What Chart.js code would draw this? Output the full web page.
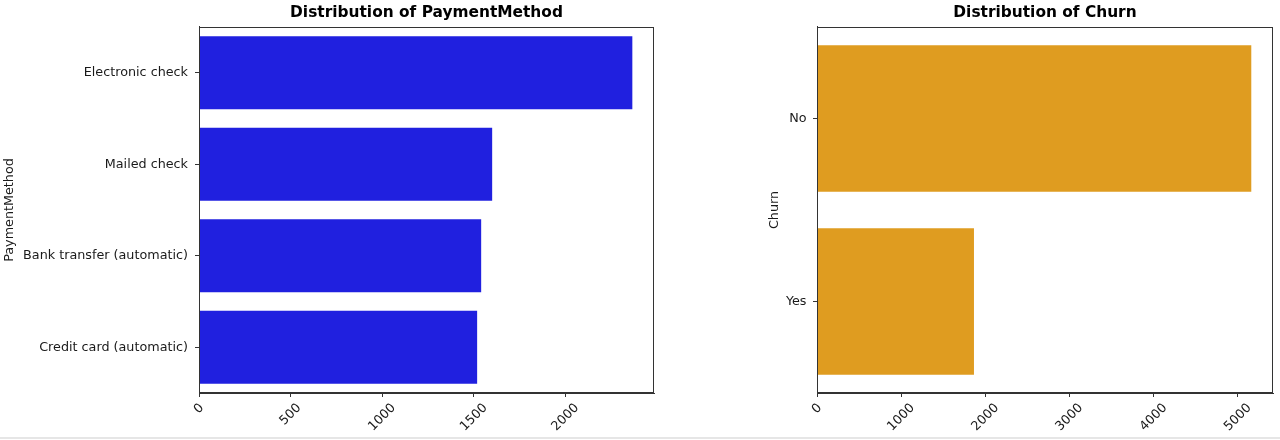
<!DOCTYPE html>
<html>
<head>
<meta charset="utf-8">
<script src="https://cdn.jsdelivr.net/npm/chart.js@4.4.1/dist/chart.umd.min.js"></script>
<style>
  body { margin: 0; background: #fff; width: 1280px; height: 440px; position: relative; overflow: hidden; }
  #left { position: absolute; left: 0; top: 0; width: 660px; height: 440px; }
  #right { position: absolute; left: 760px; top: 0; width: 520px; height: 440px; }
  #rule { position: absolute; left: 0; top: 437px; width: 1280px; height: 2px; background: #e6e6e6; }
</style>
</head>
<body>
<div id="left"><canvas id="payChart"></canvas></div>
<div id="right"><canvas id="churnChart"></canvas></div>
<div id="rule"></div>
<script>
const paymentLabels = ['Electronic check', 'Mailed check', 'Bank transfer (automatic)', 'Credit card (automatic)'];
const paymentCounts = [2365, 1600, 1540, 1518];
const paymentTicks = [0, 500, 1000, 1500, 2000];

const churnLabels = ['No', 'Yes'];
const churnCounts = [5160, 1865];
const churnTicks = [0, 1000, 2000, 3000, 4000, 5000];

const FONT_SIZE = 12.75;

Chart.defaults.font.family = '"DejaVu Sans", sans-serif';
Chart.defaults.color = '#1a1a1a';

// matplotlib-style frame + rotated, centred x tick labels
const frameAndTicks = {
  id: 'frameAndTicks',
  afterDraw(chart) {
    const { ctx, chartArea: a } = chart;
    const x = chart.scales.x;
    ctx.save();
    ctx.strokeStyle = '#333';
    ctx.lineWidth = 1;
    const l = Math.round(a.left) + 0.5, r = Math.round(a.right) - 0.5;
    const t = Math.round(a.top) + 0.5, b = Math.round(a.bottom) - 0.5;
    ctx.strokeRect(l, t, r - l, b - t);

    ctx.font = FONT_SIZE + 'px "DejaVu Sans"';
    ctx.fillStyle = '#1a1a1a';
    ctx.textAlign = 'center';
    ctx.textBaseline = 'middle';
    x.ticks.forEach(tk => {
      const px = x.getPixelForValue(tk.value);
      const txt = String(tk.value);
      const w = ctx.measureText(txt).width;
      const bh = (w + FONT_SIZE) * Math.SQRT1_2;
      ctx.save();
      ctx.translate(px, a.bottom + 8.5 + bh / 2);
      ctx.rotate(-Math.PI / 4);
      ctx.fillText(txt, 0, 0);
      ctx.restore();
    });
    ctx.restore();
  }
};

function makeChart(id, labels, counts, ticks, color, title, yTitle, yWidth, padRight, yPad, yTitlePad) {
  const ctx = document.getElementById(id).getContext('2d');
  return new Chart(ctx, {
    type: 'bar',
    data: {
      labels: labels,
      datasets: [{
        data: counts,
        backgroundColor: color,
        borderWidth: 0,
        barPercentage: 0.8,
        categoryPercentage: 1.0
      }]
    },
    options: {
      indexAxis: 'y',
      responsive: true,
      maintainAspectRatio: false,
      animation: false,
      layout: { padding: { left: 0, right: padRight, top: 0, bottom: 0 } },
      plugins: {
        legend: { display: false },
        tooltip: { enabled: false },
        title: {
          display: true,
          text: title,
          fullSize: false,
          color: '#000',
          font: { size: 15.4, weight: 'bold' },
          padding: { top: 4, bottom: 4.5 }
        }
      },
      scales: {
        x: {
          type: 'linear',
          min: 0,
          max: Math.max(...counts) * 1.05,
          afterBuildTicks: s => { s.ticks = ticks.map(v => ({ value: v })); },
          afterFit: s => { s.height = 47; },
          ticks: { display: false },
          grid: { drawOnChartArea: false, drawTicks: true, tickLength: 4, color: '#333' },
          border: { display: true, color: '#333', width: 1 }
        },
        y: {
          afterFit: s => { s.width = yWidth; },
          ticks: { padding: yPad, font: { size: FONT_SIZE }, color: '#1a1a1a' },
          grid: { drawOnChartArea: false, drawTicks: true, tickLength: 4, offset: false, color: '#333' },
          border: { display: true, color: '#333', width: 1 },
          title: {
            display: true,
            text: yTitle,
            color: '#1a1a1a',
            font: { size: FONT_SIZE },
            padding: { top: yTitlePad, bottom: 0 }
          }
        }
      }
    },
    plugins: [frameAndTicks]
  });
}

makeChart('payChart', paymentLabels, paymentCounts, paymentTicks, '#2020df',
  'Distribution of PaymentMethod', 'PaymentMethod', 199, 6, 7, 2.2);
makeChart('churnChart', churnLabels, churnCounts, churnTicks, '#df9c20',
  'Distribution of Churn', 'Churn', 57, 7, 6.5, 7.2);
</script>
</body>
</html>
